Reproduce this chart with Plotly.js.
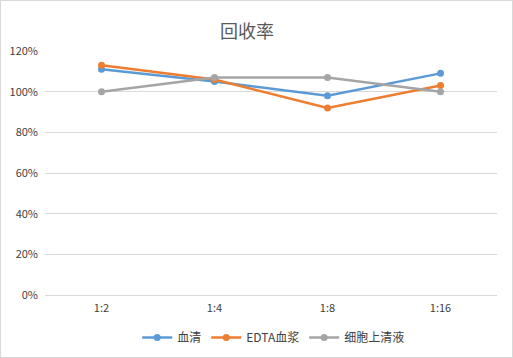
<!DOCTYPE html>
<html><head><meta charset="utf-8">
<script src="https://cdn.plot.ly/plotly-3.0.1.min.js"></script>
<style>
html,body{margin:0;padding:0;background:#fff;}
#chart{width:513px;height:358px;box-sizing:border-box;border:1px solid #d9d9d9;}
</style></head>
<body><div id="chart"></div>
<script>
const categories = ["1:2","1:4","1:8","1:16"];
const serumVals = [1.11, 1.05, 0.98, 1.09];
const edtaVals = [1.13, 1.06, 0.92, 1.03];
const cellVals = [1.00, 1.07, 1.07, 1.00];
const seriesNames = ["血清","EDTA血浆","细胞上清液"];
const colors = ["#5b9bd5","#ed7d31","#a5a5a5"];
const yTicks = [0,0.2,0.4,0.6,0.8,1.0,1.2];
const yTickText = ["0%","20%","40%","60%","80%","100%","120%"];

const font = "'Noto Sans CJK SC', 'Noto Sans', sans-serif";
const data = [serumVals, edtaVals, cellVals].map((v,i)=>({
  x: categories, y: v, name: seriesNames[i], type:'scatter', mode:'lines+markers',
  line:{color:colors[i], width:2.5}, marker:{color:colors[i], size:7}
}));
Plotly.newPlot('chart', data, {
  width:511, height:356,
  margin:{l:44, r:15, t:50, b:62, autoexpand:false},
  paper_bgcolor:'#fff', plot_bgcolor:'#fff',
  title:{text:'回收率', font:{family:font, size:18, color:'#595959'}, x:246/511, xanchor:'center', y:0.915, yanchor:'middle'},
  xaxis:{type:'category', showgrid:false, zeroline:false, showline:false, ticks:'',
    tickfont:{family:font, size:11, color:'#404040'}, range:[-0.5,3.5], ticklabelstandoff:5},
  yaxis:{range:[0,1.2], tickvals:yTicks, ticktext:yTickText, showgrid:true, gridcolor:'#d9d9d9',
    zeroline:true, zerolinecolor:'#d9d9d9', showline:false, ticks:'',
    tickfont:{family:font, size:11, color:'#404040'}, ticklabelstandoff:6, fixedrange:true},
  showlegend:true,
  legend:{orientation:'h', x:258/511, xanchor:'center', yref:'container', y:0.055, yanchor:'middle',
    font:{family:font, size:12, color:'#404040'}, itemwidth:30, tracegroupgap:0},
  hovermode:false
}, {displayModeBar:false, staticPlot:true});
</script></body></html>
